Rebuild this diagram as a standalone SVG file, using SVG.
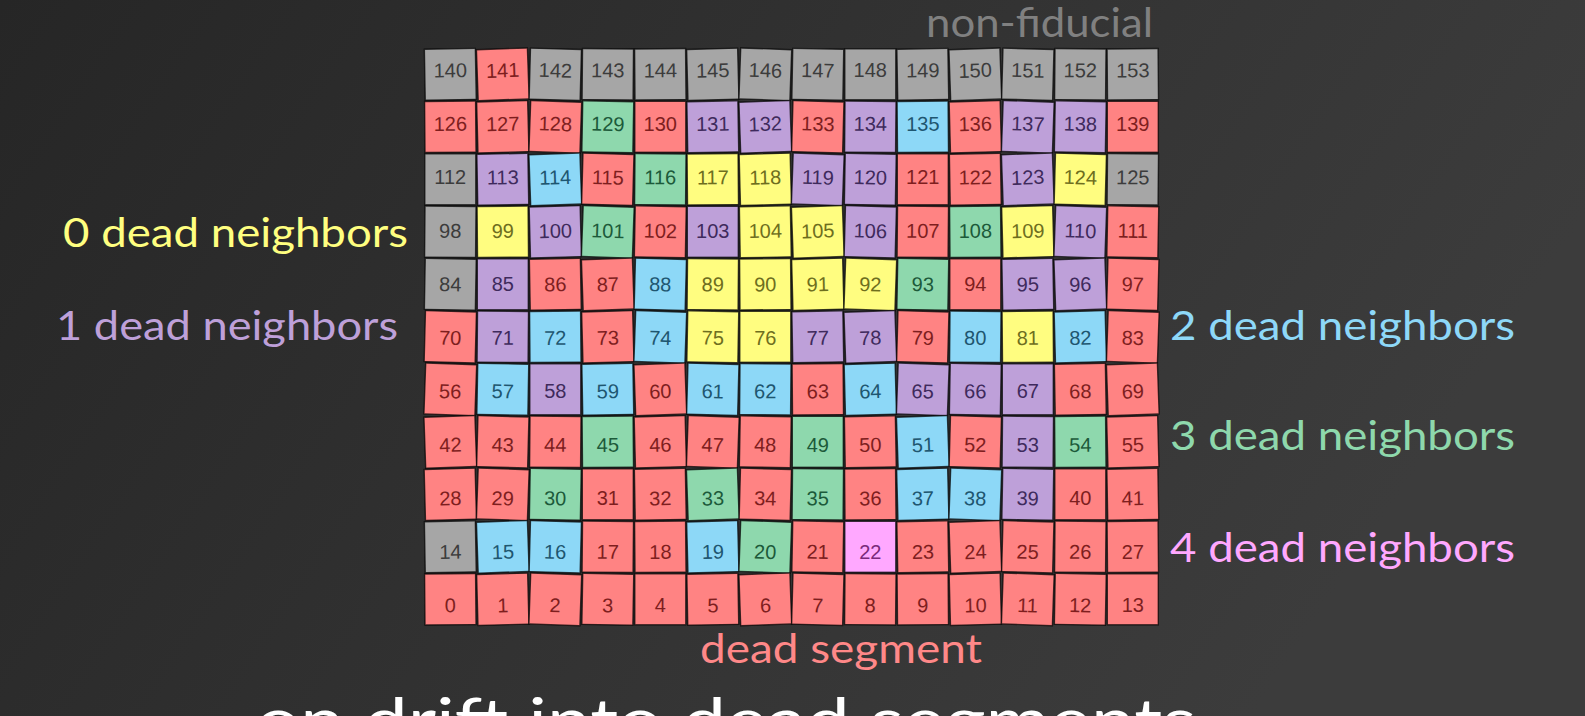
<svg xmlns="http://www.w3.org/2000/svg" xmlns:xlink="http://www.w3.org/1999/xlink" width="1585" height="716" viewBox="0 0 1585 716">
<defs>
<linearGradient id="bg" x1="0" y1="0" x2="1" y2="0.3">
<stop offset="0" stop-color="#262626"/>
<stop offset="1" stop-color="#3c3c3c"/>
</linearGradient>
<rect id="sq" x="-25.5" y="-25.5" width="51" height="51"/>
</defs>
<style>
.lbl{font-family:Lato,"Noto Sans",sans-serif;font-size:40px}
.cells use{stroke:#000;stroke-opacity:0.7;stroke-width:1.4}
.cells text{font-family:"Liberation Sans",Arial,sans-serif;font-size:20px;text-anchor:middle}
.R{fill:#FF8383}.R text{fill:#7E1E1E}
.G{fill:#A6A6A6}.G text{fill:#3C3C3C}
.P{fill:#BEA0D9}.P text{fill:#3E2A5C}
.B{fill:#8DD8F7}.B text{fill:#1E5670}
.N{fill:#8ED8AD}.N text{fill:#1C5A3A}
.Y{fill:#FFFD80}.Y text{fill:#6E6E1E}
.K{fill:#FFA8FF}.K text{fill:#7A2A7A}
</style>
<rect width="1585" height="716" fill="url(#bg)"/>
<g class="cells">
<g id="c140" class="G" transform="translate(450.3 74.3) rotate(-1)"><use href="#sq"/><text y="3">140</text></g>
<g id="c141" class="R" transform="translate(502.8 74.3) rotate(-2)"><use href="#sq"/><text y="3">141</text></g>
<g id="c142" class="G" transform="translate(555.3 74.3) rotate(1.5)"><use href="#sq"/><text y="3">142</text></g>
<g id="c143" class="G" transform="translate(607.8 74.3) rotate(0.5)"><use href="#sq"/><text y="3">143</text></g>
<g id="c144" class="G" transform="translate(660.3 74.3) rotate(-0.5)"><use href="#sq"/><text y="3">144</text></g>
<g id="c145" class="G" transform="translate(712.8 74.3) rotate(-1.5)"><use href="#sq"/><text y="3">145</text></g>
<g id="c146" class="G" transform="translate(765.3 74.3) rotate(2)"><use href="#sq"/><text y="3">146</text></g>
<g id="c147" class="G" transform="translate(817.8 74.3) rotate(1)"><use href="#sq"/><text y="3">147</text></g>
<g id="c148" class="G" transform="translate(870.3 74.3) rotate(0)"><use href="#sq"/><text y="3">148</text></g>
<g id="c149" class="G" transform="translate(922.8 74.3) rotate(-1)"><use href="#sq"/><text y="3">149</text></g>
<g id="c150" class="G" transform="translate(975.3 74.3) rotate(-2)"><use href="#sq"/><text y="3">150</text></g>
<g id="c151" class="G" transform="translate(1027.8 74.3) rotate(1.5)"><use href="#sq"/><text y="3">151</text></g>
<g id="c152" class="G" transform="translate(1080.3 74.3) rotate(0.5)"><use href="#sq"/><text y="3">152</text></g>
<g id="c153" class="G" transform="translate(1132.8 74.3) rotate(-0.5)"><use href="#sq"/><text y="3">153</text></g>

<g id="c126" class="R" transform="translate(450.3 126.8) rotate(-0.5)"><use href="#sq"/><text y="4">126</text></g>
<g id="c127" class="R" transform="translate(502.8 126.8) rotate(-1.5)"><use href="#sq"/><text y="4">127</text></g>
<g id="c128" class="R" transform="translate(555.3 126.8) rotate(2)"><use href="#sq"/><text y="4">128</text></g>
<g id="c129" class="N" transform="translate(607.8 126.8) rotate(1)"><use href="#sq"/><text y="4">129</text></g>
<g id="c130" class="R" transform="translate(660.3 126.8) rotate(0)"><use href="#sq"/><text y="4">130</text></g>
<g id="c131" class="P" transform="translate(712.8 126.8) rotate(-1)"><use href="#sq"/><text y="4">131</text></g>
<g id="c132" class="P" transform="translate(765.3 126.8) rotate(-2)"><use href="#sq"/><text y="4">132</text></g>
<g id="c133" class="R" transform="translate(817.8 126.8) rotate(1.5)"><use href="#sq"/><text y="4">133</text></g>
<g id="c134" class="P" transform="translate(870.3 126.8) rotate(0.5)"><use href="#sq"/><text y="4">134</text></g>
<g id="c135" class="B" transform="translate(922.8 126.8) rotate(-0.5)"><use href="#sq"/><text y="4">135</text></g>
<g id="c136" class="R" transform="translate(975.3 126.8) rotate(-1.5)"><use href="#sq"/><text y="4">136</text></g>
<g id="c137" class="P" transform="translate(1027.8 126.8) rotate(2)"><use href="#sq"/><text y="4">137</text></g>
<g id="c138" class="P" transform="translate(1080.3 126.8) rotate(1)"><use href="#sq"/><text y="4">138</text></g>
<g id="c139" class="R" transform="translate(1132.8 126.8) rotate(0)"><use href="#sq"/><text y="4">139</text></g>

<g id="c112" class="G" transform="translate(450.3 179.3) rotate(0)"><use href="#sq"/><text y="5">112</text></g>
<g id="c113" class="P" transform="translate(502.8 179.3) rotate(-1)"><use href="#sq"/><text y="5">113</text></g>
<g id="c114" class="B" transform="translate(555.3 179.3) rotate(-2)"><use href="#sq"/><text y="5">114</text></g>
<g id="c115" class="R" transform="translate(607.8 179.3) rotate(1.5)"><use href="#sq"/><text y="5">115</text></g>
<g id="c116" class="N" transform="translate(660.3 179.3) rotate(0.5)"><use href="#sq"/><text y="5">116</text></g>
<g id="c117" class="Y" transform="translate(712.8 179.3) rotate(-0.5)"><use href="#sq"/><text y="5">117</text></g>
<g id="c118" class="Y" transform="translate(765.3 179.3) rotate(-1.5)"><use href="#sq"/><text y="5">118</text></g>
<g id="c119" class="P" transform="translate(817.8 179.3) rotate(2)"><use href="#sq"/><text y="5">119</text></g>
<g id="c120" class="P" transform="translate(870.3 179.3) rotate(1)"><use href="#sq"/><text y="5">120</text></g>
<g id="c121" class="R" transform="translate(922.8 179.3) rotate(0)"><use href="#sq"/><text y="5">121</text></g>
<g id="c122" class="R" transform="translate(975.3 179.3) rotate(-1)"><use href="#sq"/><text y="5">122</text></g>
<g id="c123" class="P" transform="translate(1027.8 179.3) rotate(-2)"><use href="#sq"/><text y="5">123</text></g>
<g id="c124" class="Y" transform="translate(1080.3 179.3) rotate(1.5)"><use href="#sq"/><text y="5">124</text></g>
<g id="c125" class="G" transform="translate(1132.8 179.3) rotate(0.5)"><use href="#sq"/><text y="5">125</text></g>

<g id="c98" class="G" transform="translate(450.3 231.8) rotate(0.5)"><use href="#sq"/><text y="6">98</text></g>
<g id="c99" class="Y" transform="translate(502.8 231.8) rotate(-0.5)"><use href="#sq"/><text y="6">99</text></g>
<g id="c100" class="P" transform="translate(555.3 231.8) rotate(-1.5)"><use href="#sq"/><text y="6">100</text></g>
<g id="c101" class="N" transform="translate(607.8 231.8) rotate(2)"><use href="#sq"/><text y="6">101</text></g>
<g id="c102" class="R" transform="translate(660.3 231.8) rotate(1)"><use href="#sq"/><text y="6">102</text></g>
<g id="c103" class="P" transform="translate(712.8 231.8) rotate(0)"><use href="#sq"/><text y="6">103</text></g>
<g id="c104" class="Y" transform="translate(765.3 231.8) rotate(-1)"><use href="#sq"/><text y="6">104</text></g>
<g id="c105" class="Y" transform="translate(817.8 231.8) rotate(-2)"><use href="#sq"/><text y="6">105</text></g>
<g id="c106" class="P" transform="translate(870.3 231.8) rotate(1.5)"><use href="#sq"/><text y="6">106</text></g>
<g id="c107" class="R" transform="translate(922.8 231.8) rotate(0.5)"><use href="#sq"/><text y="6">107</text></g>
<g id="c108" class="N" transform="translate(975.3 231.8) rotate(-0.5)"><use href="#sq"/><text y="6">108</text></g>
<g id="c109" class="Y" transform="translate(1027.8 231.8) rotate(-1.5)"><use href="#sq"/><text y="6">109</text></g>
<g id="c110" class="P" transform="translate(1080.3 231.8) rotate(2)"><use href="#sq"/><text y="6">110</text></g>
<g id="c111" class="R" transform="translate(1132.8 231.8) rotate(1)"><use href="#sq"/><text y="6">111</text></g>

<g id="c84" class="G" transform="translate(450.3 284.3) rotate(1)"><use href="#sq"/><text y="7">84</text></g>
<g id="c85" class="P" transform="translate(502.8 284.3) rotate(0)"><use href="#sq"/><text y="7">85</text></g>
<g id="c86" class="R" transform="translate(555.3 284.3) rotate(-1)"><use href="#sq"/><text y="7">86</text></g>
<g id="c87" class="R" transform="translate(607.8 284.3) rotate(-2)"><use href="#sq"/><text y="7">87</text></g>
<g id="c88" class="B" transform="translate(660.3 284.3) rotate(1.5)"><use href="#sq"/><text y="7">88</text></g>
<g id="c89" class="Y" transform="translate(712.8 284.3) rotate(0.5)"><use href="#sq"/><text y="7">89</text></g>
<g id="c90" class="Y" transform="translate(765.3 284.3) rotate(-0.5)"><use href="#sq"/><text y="7">90</text></g>
<g id="c91" class="Y" transform="translate(817.8 284.3) rotate(-1.5)"><use href="#sq"/><text y="7">91</text></g>
<g id="c92" class="Y" transform="translate(870.3 284.3) rotate(2)"><use href="#sq"/><text y="7">92</text></g>
<g id="c93" class="N" transform="translate(922.8 284.3) rotate(1)"><use href="#sq"/><text y="7">93</text></g>
<g id="c94" class="R" transform="translate(975.3 284.3) rotate(0)"><use href="#sq"/><text y="7">94</text></g>
<g id="c95" class="P" transform="translate(1027.8 284.3) rotate(-1)"><use href="#sq"/><text y="7">95</text></g>
<g id="c96" class="P" transform="translate(1080.3 284.3) rotate(-2)"><use href="#sq"/><text y="7">96</text></g>
<g id="c97" class="R" transform="translate(1132.8 284.3) rotate(1.5)"><use href="#sq"/><text y="7">97</text></g>

<g id="c70" class="R" transform="translate(450.3 336.8) rotate(1.5)"><use href="#sq"/><text y="8">70</text></g>
<g id="c71" class="P" transform="translate(502.8 336.8) rotate(0.5)"><use href="#sq"/><text y="8">71</text></g>
<g id="c72" class="B" transform="translate(555.3 336.8) rotate(-0.5)"><use href="#sq"/><text y="8">72</text></g>
<g id="c73" class="R" transform="translate(607.8 336.8) rotate(-1.5)"><use href="#sq"/><text y="8">73</text></g>
<g id="c74" class="B" transform="translate(660.3 336.8) rotate(2)"><use href="#sq"/><text y="8">74</text></g>
<g id="c75" class="Y" transform="translate(712.8 336.8) rotate(1)"><use href="#sq"/><text y="8">75</text></g>
<g id="c76" class="Y" transform="translate(765.3 336.8) rotate(0)"><use href="#sq"/><text y="8">76</text></g>
<g id="c77" class="P" transform="translate(817.8 336.8) rotate(-1)"><use href="#sq"/><text y="8">77</text></g>
<g id="c78" class="P" transform="translate(870.3 336.8) rotate(-2)"><use href="#sq"/><text y="8">78</text></g>
<g id="c79" class="R" transform="translate(922.8 336.8) rotate(1.5)"><use href="#sq"/><text y="8">79</text></g>
<g id="c80" class="B" transform="translate(975.3 336.8) rotate(0.5)"><use href="#sq"/><text y="8">80</text></g>
<g id="c81" class="Y" transform="translate(1027.8 336.8) rotate(-0.5)"><use href="#sq"/><text y="8">81</text></g>
<g id="c82" class="B" transform="translate(1080.3 336.8) rotate(-1.5)"><use href="#sq"/><text y="8">82</text></g>
<g id="c83" class="R" transform="translate(1132.8 336.8) rotate(2)"><use href="#sq"/><text y="8">83</text></g>

<g id="c56" class="R" transform="translate(450.3 389.3) rotate(2)"><use href="#sq"/><text y="9">56</text></g>
<g id="c57" class="B" transform="translate(502.8 389.3) rotate(1)"><use href="#sq"/><text y="9">57</text></g>
<g id="c58" class="P" transform="translate(555.3 389.3) rotate(0)"><use href="#sq"/><text y="9">58</text></g>
<g id="c59" class="B" transform="translate(607.8 389.3) rotate(-1)"><use href="#sq"/><text y="9">59</text></g>
<g id="c60" class="R" transform="translate(660.3 389.3) rotate(-2)"><use href="#sq"/><text y="9">60</text></g>
<g id="c61" class="B" transform="translate(712.8 389.3) rotate(1.5)"><use href="#sq"/><text y="9">61</text></g>
<g id="c62" class="B" transform="translate(765.3 389.3) rotate(0.5)"><use href="#sq"/><text y="9">62</text></g>
<g id="c63" class="R" transform="translate(817.8 389.3) rotate(-0.5)"><use href="#sq"/><text y="9">63</text></g>
<g id="c64" class="B" transform="translate(870.3 389.3) rotate(-1.5)"><use href="#sq"/><text y="9">64</text></g>
<g id="c65" class="P" transform="translate(922.8 389.3) rotate(2)"><use href="#sq"/><text y="9">65</text></g>
<g id="c66" class="P" transform="translate(975.3 389.3) rotate(1)"><use href="#sq"/><text y="9">66</text></g>
<g id="c67" class="P" transform="translate(1027.8 389.3) rotate(0)"><use href="#sq"/><text y="9">67</text></g>
<g id="c68" class="R" transform="translate(1080.3 389.3) rotate(-1)"><use href="#sq"/><text y="9">68</text></g>
<g id="c69" class="R" transform="translate(1132.8 389.3) rotate(-2)"><use href="#sq"/><text y="9">69</text></g>

<g id="c42" class="R" transform="translate(450.3 441.8) rotate(-2)"><use href="#sq"/><text y="10">42</text></g>
<g id="c43" class="R" transform="translate(502.8 441.8) rotate(1.5)"><use href="#sq"/><text y="10">43</text></g>
<g id="c44" class="R" transform="translate(555.3 441.8) rotate(0.5)"><use href="#sq"/><text y="10">44</text></g>
<g id="c45" class="N" transform="translate(607.8 441.8) rotate(-0.5)"><use href="#sq"/><text y="10">45</text></g>
<g id="c46" class="R" transform="translate(660.3 441.8) rotate(-1.5)"><use href="#sq"/><text y="10">46</text></g>
<g id="c47" class="R" transform="translate(712.8 441.8) rotate(2)"><use href="#sq"/><text y="10">47</text></g>
<g id="c48" class="R" transform="translate(765.3 441.8) rotate(1)"><use href="#sq"/><text y="10">48</text></g>
<g id="c49" class="N" transform="translate(817.8 441.8) rotate(0)"><use href="#sq"/><text y="10">49</text></g>
<g id="c50" class="R" transform="translate(870.3 441.8) rotate(-1)"><use href="#sq"/><text y="10">50</text></g>
<g id="c51" class="B" transform="translate(922.8 441.8) rotate(-2)"><use href="#sq"/><text y="10">51</text></g>
<g id="c52" class="R" transform="translate(975.3 441.8) rotate(1.5)"><use href="#sq"/><text y="10">52</text></g>
<g id="c53" class="P" transform="translate(1027.8 441.8) rotate(0.5)"><use href="#sq"/><text y="10">53</text></g>
<g id="c54" class="N" transform="translate(1080.3 441.8) rotate(-0.5)"><use href="#sq"/><text y="10">54</text></g>
<g id="c55" class="R" transform="translate(1132.8 441.8) rotate(-1.5)"><use href="#sq"/><text y="10">55</text></g>

<g id="c28" class="R" transform="translate(450.3 494.3) rotate(-1.5)"><use href="#sq"/><text y="11">28</text></g>
<g id="c29" class="R" transform="translate(502.8 494.3) rotate(2)"><use href="#sq"/><text y="11">29</text></g>
<g id="c30" class="N" transform="translate(555.3 494.3) rotate(1)"><use href="#sq"/><text y="11">30</text></g>
<g id="c31" class="R" transform="translate(607.8 494.3) rotate(0)"><use href="#sq"/><text y="11">31</text></g>
<g id="c32" class="R" transform="translate(660.3 494.3) rotate(-1)"><use href="#sq"/><text y="11">32</text></g>
<g id="c33" class="N" transform="translate(712.8 494.3) rotate(-2)"><use href="#sq"/><text y="11">33</text></g>
<g id="c34" class="R" transform="translate(765.3 494.3) rotate(1.5)"><use href="#sq"/><text y="11">34</text></g>
<g id="c35" class="N" transform="translate(817.8 494.3) rotate(0.5)"><use href="#sq"/><text y="11">35</text></g>
<g id="c36" class="R" transform="translate(870.3 494.3) rotate(-0.5)"><use href="#sq"/><text y="11">36</text></g>
<g id="c37" class="B" transform="translate(922.8 494.3) rotate(-1.5)"><use href="#sq"/><text y="11">37</text></g>
<g id="c38" class="B" transform="translate(975.3 494.3) rotate(2)"><use href="#sq"/><text y="11">38</text></g>
<g id="c39" class="P" transform="translate(1027.8 494.3) rotate(1)"><use href="#sq"/><text y="11">39</text></g>
<g id="c40" class="R" transform="translate(1080.3 494.3) rotate(0)"><use href="#sq"/><text y="11">40</text></g>
<g id="c41" class="R" transform="translate(1132.8 494.3) rotate(-1)"><use href="#sq"/><text y="11">41</text></g>

<g id="c14" class="G" transform="translate(450.3 546.8) rotate(-1)"><use href="#sq"/><text y="12">14</text></g>
<g id="c15" class="B" transform="translate(502.8 546.8) rotate(-2)"><use href="#sq"/><text y="12">15</text></g>
<g id="c16" class="B" transform="translate(555.3 546.8) rotate(1.5)"><use href="#sq"/><text y="12">16</text></g>
<g id="c17" class="R" transform="translate(607.8 546.8) rotate(0.5)"><use href="#sq"/><text y="12">17</text></g>
<g id="c18" class="R" transform="translate(660.3 546.8) rotate(-0.5)"><use href="#sq"/><text y="12">18</text></g>
<g id="c19" class="B" transform="translate(712.8 546.8) rotate(-1.5)"><use href="#sq"/><text y="12">19</text></g>
<g id="c20" class="N" transform="translate(765.3 546.8) rotate(2)"><use href="#sq"/><text y="12">20</text></g>
<g id="c21" class="R" transform="translate(817.8 546.8) rotate(1)"><use href="#sq"/><text y="12">21</text></g>
<g id="c22" class="K" transform="translate(870.3 546.8) rotate(0)"><use href="#sq"/><text y="12">22</text></g>
<g id="c23" class="R" transform="translate(922.8 546.8) rotate(-1)"><use href="#sq"/><text y="12">23</text></g>
<g id="c24" class="R" transform="translate(975.3 546.8) rotate(-2)"><use href="#sq"/><text y="12">24</text></g>
<g id="c25" class="R" transform="translate(1027.8 546.8) rotate(1.5)"><use href="#sq"/><text y="12">25</text></g>
<g id="c26" class="R" transform="translate(1080.3 546.8) rotate(0.5)"><use href="#sq"/><text y="12">26</text></g>
<g id="c27" class="R" transform="translate(1132.8 546.8) rotate(-0.5)"><use href="#sq"/><text y="12">27</text></g>

<g id="c0" class="R" transform="translate(450.3 599.3) rotate(-0.5)"><use href="#sq"/><text y="13">0</text></g>
<g id="c1" class="R" transform="translate(502.8 599.3) rotate(-1.5)"><use href="#sq"/><text y="13">1</text></g>
<g id="c2" class="R" transform="translate(555.3 599.3) rotate(2)"><use href="#sq"/><text y="13">2</text></g>
<g id="c3" class="R" transform="translate(607.8 599.3) rotate(1)"><use href="#sq"/><text y="13">3</text></g>
<g id="c4" class="R" transform="translate(660.3 599.3) rotate(0)"><use href="#sq"/><text y="13">4</text></g>
<g id="c5" class="R" transform="translate(712.8 599.3) rotate(-1)"><use href="#sq"/><text y="13">5</text></g>
<g id="c6" class="R" transform="translate(765.3 599.3) rotate(-2)"><use href="#sq"/><text y="13">6</text></g>
<g id="c7" class="R" transform="translate(817.8 599.3) rotate(1.5)"><use href="#sq"/><text y="13">7</text></g>
<g id="c8" class="R" transform="translate(870.3 599.3) rotate(0.5)"><use href="#sq"/><text y="13">8</text></g>
<g id="c9" class="R" transform="translate(922.8 599.3) rotate(-0.5)"><use href="#sq"/><text y="13">9</text></g>
<g id="c10" class="R" transform="translate(975.3 599.3) rotate(-1.5)"><use href="#sq"/><text y="13">10</text></g>
<g id="c11" class="R" transform="translate(1027.8 599.3) rotate(2)"><use href="#sq"/><text y="13">11</text></g>
<g id="c12" class="R" transform="translate(1080.3 599.3) rotate(1)"><use href="#sq"/><text y="13">12</text></g>
<g id="c13" class="R" transform="translate(1132.8 599.3) rotate(0)"><use href="#sq"/><text y="13">13</text></g>
</g>
<g id="connectors"/>
<g id="labels">
<text class="lbl" x="926" y="37" fill="#808080" textLength="227" lengthAdjust="spacingAndGlyphs">non-fiducial</text>
<text class="lbl" x="63" y="247" fill="#FFFF80" textLength="345" lengthAdjust="spacingAndGlyphs">0 dead neighbors</text>
<text class="lbl" x="56" y="340" fill="#BEA0D9" textLength="342" lengthAdjust="spacingAndGlyphs">1 dead neighbors</text>
<text class="lbl" x="1170" y="340" fill="#8ED8F8" textLength="345" lengthAdjust="spacingAndGlyphs">2 dead neighbors</text>
<text class="lbl" x="1170" y="450" fill="#8ED8AC" textLength="345" lengthAdjust="spacingAndGlyphs">3 dead neighbors</text>
<text class="lbl" x="1170" y="562" fill="#FFA8FF" textLength="345" lengthAdjust="spacingAndGlyphs">4 dead neighbors</text>
<text class="lbl" x="700" y="663" fill="#FF8888" textLength="282" lengthAdjust="spacingAndGlyphs">dead segment</text>
<text x="256" y="743" fill="#FFFFFF" font-family="Lato,'Noto Sans',sans-serif" font-size="62" textLength="940" lengthAdjust="spacingAndGlyphs">on drift into dead segments</text>
</g>
</svg>
